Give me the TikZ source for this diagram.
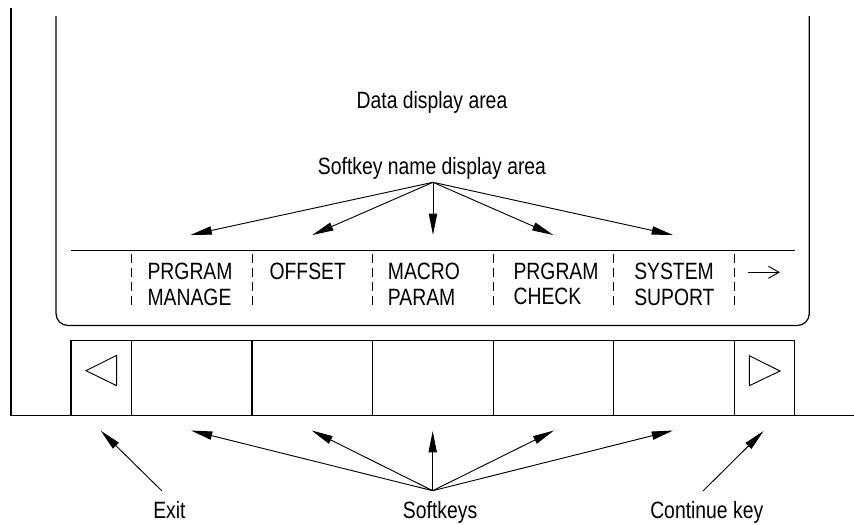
\documentclass[tikz,border=0pt]{standalone}
\usepackage{fontspec}
\setmainfont[FakeStretch=0.82]{Liberation Sans}
\usetikzlibrary{arrows.meta}
\begin{document}
\begin{tikzpicture}[x=0.75pt,y=-0.75pt,
  txt/.style={inner sep=0pt, font=\fontsize{17.7}{20}\selectfont},
  lbl/.style={txt, anchor=base west},
  ctr/.style={txt, anchor=base},
  frame/.style={line width=0.9pt},
  thin/.style={line width=0.7pt},
  conn/.style={line width=0.7pt, -{Triangle[length=16pt,width=6.2pt]}},
  sep/.style={line width=0.7pt, dash pattern=on 6.5pt off 4pt}]
\useasboundingbox (0,0) rectangle (854,525);

% outer panel
\draw[frame] (11,8) -- (11,415.5) -- (854,415.5);
% screen
\draw[frame, rounded corners=9pt] (56,16) -- (56,325.5) -- (809.3,325.5) -- (809.3,16);
% softkey name line
\draw[thin] (71,250) -- (795,250);
% dashed separators
\foreach \x in {131.7,252,372.3,493.3,613.3,734.3}
  \draw[sep] (\x,254) -- (\x,306);
% continue arrow on screen
\draw[thin, -{Straight Barb[length=8pt,width=9pt]}] (748.3,272.3) -- (780,272.3);

% softkeys
\draw[frame] (71,340.3) rectangle (794.3,415.5);
\foreach \x in {131.7,252,372.3,493.3,613.3,734.3}
  \draw[frame] (\x,340.3) -- (\x,415.5);
\draw[thin] (86,370.7) -- (116.7,355.3) -- (116.7,385.7) -- cycle;
\draw[thin] (749.3,355.7) -- (780,371) -- (749.3,385.7) -- cycle;

% texts
\node[ctr] (data) at (432,108.3) {Data display area};
\node[ctr] (sname) at (432,174.3) {Softkey name display area};
\node[lbl] (k1a) at (147.3,279.8) {PRGRAM};
\node[lbl] (k1b) at (147.3,305.3) {MANAGE};
\node[lbl] (k2a) at (269.3,279.8) {OFFSET};
\node[lbl] (k3a) at (387.7,279.8) {MACRO};
\node[lbl] (k3b) at (387.7,305.3) {PARAM};
\node[lbl] (k4a) at (513.3,279.3) {PRGRAM};
\node[lbl] (k4b) at (513.3,304) {CHECK};
\node[lbl] (k5a) at (634,279.8) {SYSTEM};
\node[lbl] (k5b) at (634,305.3) {SUPORT};
\node[lbl] (exit) at (153,518.3) {Exit};
\node[lbl] (soft) at (402.7,518.3) {Softkeys};
\node[lbl] (cont) at (650,518.3) {Continue key};

% top fan
\coordinate (tf) at (433,182.3);
\coordinate (t1) at (190.5,235);
\coordinate (t2) at (312.3,235);
\coordinate (t3) at (433,235);
\coordinate (t4) at (553.3,235);
\coordinate (t5) at (673,235);
\foreach \t in {t1,t2,t3,t4,t5}
  \draw[conn] (tf) -- (\t);

% bottom fan
\coordinate (bf) at (432.7,490.7);
\coordinate (b1) at (191,430.5);
\coordinate (b2) at (311.7,430.5);
\coordinate (b3) at (432.7,431);
\coordinate (b4) at (554,430.5);
\coordinate (b5) at (673,430.5);
\foreach \b in {b1,b2,b3,b4,b5}
  \draw[conn] (bf) -- (\b);

% exit and continue
\coordinate (ex0) at (161.7,490.7);
\coordinate (ex1) at (100.7,430.7);
\draw[conn] (ex0) -- (ex1);
\coordinate (co0) at (703,491);
\coordinate (co1) at (763.5,431);
\draw[conn] (co0) -- (co1);
\end{tikzpicture}
\end{document}
